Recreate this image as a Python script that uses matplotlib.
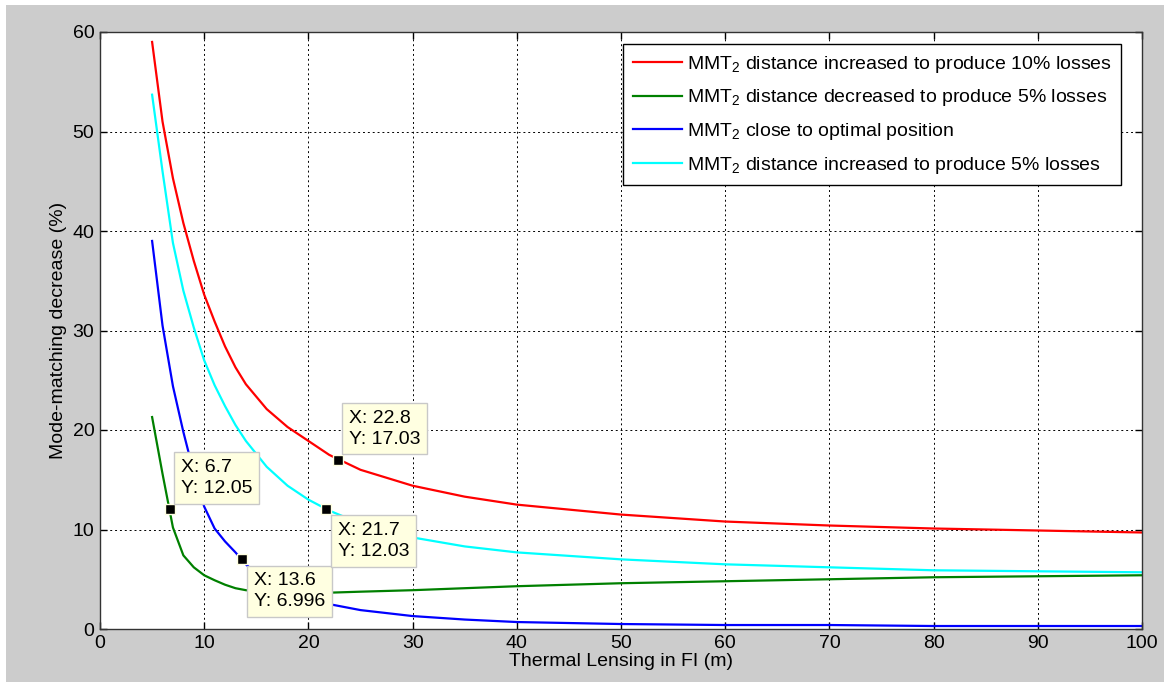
import numpy as np
import matplotlib.pyplot as plt
from matplotlib.patches import Rectangle

plt.rcParams['font.family'] = ['Liberation Sans', 'DejaVu Sans']
plt.rcParams['mathtext.fontset'] = 'custom'
plt.rcParams['mathtext.rm'] = 'Liberation Sans'
plt.rcParams['mathtext.it'] = 'Liberation Sans:italic'

# thermal lens focal length (m)
x = [5, 6, 7, 8, 9, 10, 11, 12, 13, 14, 16, 18, 20, 22, 25, 30, 35, 40, 50, 60, 70, 80, 90, 100]

# mode-matching decrease (%) for each MMT2 position
red = [59.0, 51.0, 45.3, 40.8, 37.0, 33.6, 30.9, 28.4, 26.3, 24.6, 22.1, 20.3, 18.9, 17.5, 16.0, 14.4,
       13.3, 12.5, 11.5, 10.8, 10.4, 10.1, 9.9, 9.7]
green = [21.3, 15.6, 10.2, 7.4, 6.2, 5.4, 4.9, 4.45, 4.1, 3.9, 3.7, 3.62, 3.6, 3.65, 3.75, 3.9,
         4.1, 4.3, 4.6, 4.8, 5.0, 5.2, 5.3, 5.4]
blue = [39.0, 30.5, 24.4, 19.8, 15.7, 12.3, 10.1, 8.8, 7.7, 6.5, 4.6, 3.6, 2.9, 2.5, 1.9, 1.3,
        0.95, 0.7, 0.5, 0.4, 0.4, 0.3, 0.3, 0.3]
cyan = [53.7, 46.0, 38.8, 34.0, 30.3, 27.0, 24.5, 22.4, 20.5, 18.9, 16.3, 14.4, 13.0, 11.9, 10.6, 9.2,
        8.3, 7.7, 7.0, 6.5, 6.2, 5.9, 5.8, 5.7]

labels = ['MMT$_\\mathrm{2}$ distance increased to produce 10% losses',
          'MMT$_\\mathrm{2}$ distance decreased to produce 5% losses',
          'MMT$_\\mathrm{2}$ close to optimal position',
          'MMT$_\\mathrm{2}$ distance increased to produce 5% losses']

# data tips
tip_x = [22.8, 6.7, 13.6, 21.7]
tip_y = [17.03, 12.05, 6.996, 12.03]
tip_side = ['above', 'above', 'below', 'below']

fs = 14

fig = plt.figure(figsize=(11.64, 6.83), dpi=100, facecolor='white')
fig.patches.append(Rectangle((6 / 1164, 1 / 683), 1, 677 / 683, transform=fig.transFigure,
                             facecolor='#cccccc', edgecolor='none', zorder=-10))
ax = fig.add_axes([100 / 1164, 54 / 683, 1042 / 1164, 597 / 683])

ax.plot(x, red, color='#ff0000', lw=1.6, label=labels[0])
ax.plot(x, green, color='#008000', lw=1.6, label=labels[1])
ax.plot(x, blue, color='#0000ff', lw=1.6, label=labels[2])
ax.plot(x, cyan, color='#00ffff', lw=1.6, label=labels[3])

for tx, ty, side in zip(tip_x, tip_y, tip_side):
    ax.plot(tx, ty, 's', ms=7, mfc='black', mec='#ffffe1', mew=1, zorder=5)
    if side == 'above':
        off, va = (11 * 0.72, 12 * 0.72), 'bottom'
    else:
        off, va = (12 * 0.72, -13 * 0.72), 'top'
    ax.annotate('X: %g\nY: %g' % (tx, ty), xy=(tx, ty), xytext=off, textcoords='offset points',
                ha='left', va=va, fontsize=fs, linespacing=1.3, zorder=6,
                bbox=dict(boxstyle='square,pad=0.35', fc='#ffffe1', ec='#c8c8c8', lw=1))

ax.set_xlim(0, 100)
ax.set_ylim(0, 60)
ax.set_xticks(np.arange(0, 101, 10))
ax.set_yticks(np.arange(0, 61, 10))
ax.grid(True, color='black', linestyle=(0, (2, 3)), linewidth=0.7)
ax.tick_params(direction='in', length=5, width=1, top=True, right=True,
               labelsize=fs, pad=4, colors='black')
for s in ax.spines.values():
    s.set_color('#333333')
    s.set_linewidth(1)

ax.set_xlabel('Thermal Lensing in FI (m)', fontsize=fs, labelpad=1)
ax.set_ylabel('Mode-matching decrease (%)', fontsize=fs, labelpad=4)

leg = ax.legend(loc='upper right', bbox_to_anchor=(1121 / 1164, 639 / 683),
                bbox_transform=fig.transFigure, fontsize=fs, fancybox=False,
                framealpha=1, edgecolor='black', handlelength=2.5, handletextpad=0.25,
                labelspacing=0.65, borderpad=0.5, borderaxespad=0)
leg.get_frame().set_linewidth(1)

plt.savefig('out.png', dpi=100, facecolor=fig.get_facecolor())
